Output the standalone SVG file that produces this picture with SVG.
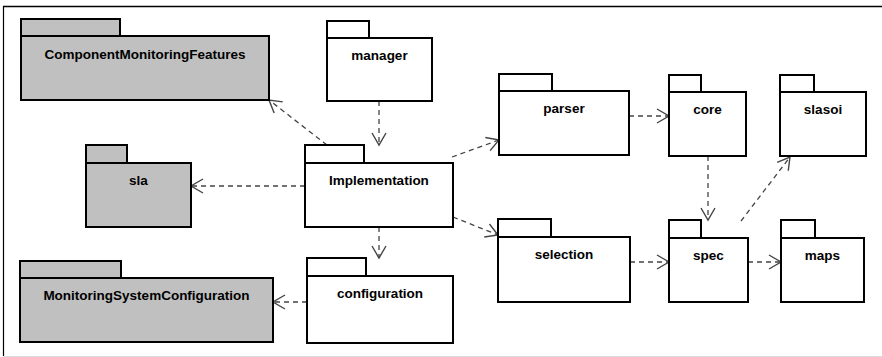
<svg xmlns="http://www.w3.org/2000/svg" width="882" height="357" viewBox="0 0 882 357">
<defs>
<style>
.pk{stroke:#000;stroke-width:2;fill:#fff}
.g .pk{fill:#c0c0c0}
.lb{font-family:"Liberation Sans",Arial,sans-serif;font-weight:bold;font-size:13.5px;fill:#000;text-anchor:middle}
.dep{fill:none;stroke:#444;stroke-width:1.3;stroke-dasharray:5,4;marker-end:url(#arr)}
</style>
<marker id="arr" viewBox="-14 -9 16 18" markerWidth="16" markerHeight="18" refX="0" refY="0" orient="auto" markerUnits="userSpaceOnUse">
<path d="M-12,-7 L0,0 L-12,7" fill="none" stroke="#444" stroke-width="1.4"/>
</marker>
</defs>
<rect width="882" height="357" fill="#fff"/>
<g id="frame">
<line x1="3" y1="6.5" x2="882" y2="6.5" stroke="#000" stroke-width="1.5"/>
<line x1="3.5" y1="6" x2="3.5" y2="356" stroke="#000" stroke-width="1.2"/>
<line x1="3" y1="356.5" x2="882" y2="356.5" stroke="#ddd" stroke-width="1"/>
</g>
<g id="connectors">
<path class="dep" d="M327,145 L269,100"/>
<path class="dep" d="M379,101 L379,145"/>
<path class="dep" d="M305,186 L191,186"/>
<path class="dep" d="M452,157 L499,140"/>
<path class="dep" d="M453,217 L498,235"/>
<path class="dep" d="M379,227 L379,258"/>
<path class="dep" d="M307,302 L273,302"/>
<path class="dep" d="M629,116 L669,116"/>
<path class="dep" d="M708,156 L708,220"/>
<path class="dep" d="M741,221 L790,157"/>
<path class="dep" d="M630,262 L669,262"/>
<path class="dep" d="M748,262 L781,262"/>
</g>
<g id="ComponentMonitoringFeatures" class="g">
<rect class="pk" x="21" y="19" width="99" height="17"/>
<rect class="pk" x="21" y="36" width="248" height="64"/>
<text class="lb" x="145" y="59">ComponentMonitoringFeatures</text>
</g>
<g id="manager">
<rect class="pk" x="327" y="21" width="42" height="17"/>
<rect class="pk" x="327" y="38" width="105" height="63"/>
<text class="lb" x="379.5" y="60">manager</text>
</g>
<g id="parser">
<rect class="pk" x="499" y="74" width="53" height="17"/>
<rect class="pk" x="499" y="91" width="130" height="64"/>
<text class="lb" x="564" y="113">parser</text>
</g>
<g id="core">
<rect class="pk" x="669" y="75" width="32" height="17"/>
<rect class="pk" x="669" y="92" width="77" height="64"/>
<text class="lb" x="707.5" y="114">core</text>
</g>
<g id="slasoi">
<rect class="pk" x="780" y="75" width="34" height="17"/>
<rect class="pk" x="780" y="92" width="86" height="64"/>
<text class="lb" x="823" y="114">slasoi</text>
</g>
<g id="sla" class="g">
<rect class="pk" x="86" y="145" width="41" height="18"/>
<rect class="pk" x="86" y="163" width="105" height="64"/>
<text class="lb" x="138.5" y="185">sla</text>
</g>
<g id="Implementation">
<rect class="pk" x="305" y="145" width="59" height="18"/>
<rect class="pk" x="305" y="163" width="148" height="64"/>
<text class="lb" x="379" y="185">Implementation</text>
</g>
<g id="configuration">
<rect class="pk" x="307" y="258" width="59" height="18"/>
<rect class="pk" x="307" y="276" width="146" height="67"/>
<text class="lb" x="380" y="298">configuration</text>
</g>
<g id="MonitoringSystemConfiguration" class="g">
<rect class="pk" x="20" y="261" width="101" height="17"/>
<rect class="pk" x="20" y="278" width="253" height="64"/>
<text class="lb" x="146.5" y="300">MonitoringSystemConfiguration</text>
</g>
<g id="selection">
<rect class="pk" x="498" y="219" width="53" height="18"/>
<rect class="pk" x="498" y="237" width="132" height="65"/>
<text class="lb" x="564" y="259">selection</text>
</g>
<g id="spec">
<rect class="pk" x="669" y="220" width="32" height="18"/>
<rect class="pk" x="669" y="238" width="79" height="64"/>
<text class="lb" x="708.5" y="260">spec</text>
</g>
<g id="maps">
<rect class="pk" x="781" y="220" width="34" height="18"/>
<rect class="pk" x="781" y="238" width="83" height="64"/>
<text class="lb" x="822.5" y="260">maps</text>
</g>
</svg>
